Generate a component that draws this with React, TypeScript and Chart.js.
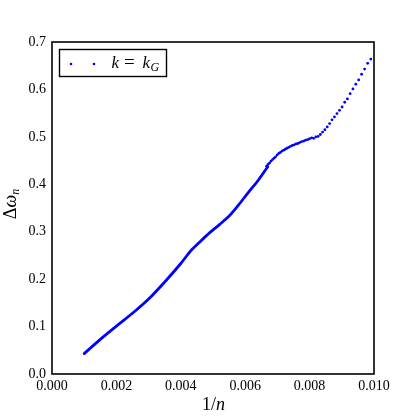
import React, { useEffect, useRef } from "react";
import { Chart, registerables } from "chart.js";

Chart.register(...registerables);

// Dense part (n from 1000 down to ~150): points merge into a solid curve
const denseX = [0.001, 0.0015, 0.002, 0.0025, 0.003, 0.0035, 0.004, 0.0043, 0.0046, 0.0049, 0.0052, 0.0055, 0.0058, 0.0061, 0.0064, 0.0067];
const denseY = [0.043, 0.073, 0.101, 0.128, 0.158, 0.194, 0.233, 0.259, 0.279, 0.298, 0.315, 0.333, 0.357, 0.383, 0.408, 0.437];

// Sparse part (n = 101 ... 150): individual dots
const sparseX = [
  0.009901, 0.009804, 0.009709, 0.009615, 0.009524, 0.009434, 0.009346, 0.009259, 0.009174, 0.009091,
  0.009009, 0.008929, 0.00885, 0.008772, 0.008696, 0.008621, 0.008547, 0.008475, 0.008403, 0.008333,
  0.008264, 0.008197, 0.00813, 0.008065, 0.008, 0.007937, 0.007874, 0.007813, 0.007752, 0.007692,
  0.007634, 0.007576, 0.007519, 0.007463, 0.007407, 0.007353, 0.007299, 0.007246, 0.007194, 0.007143,
  0.007092, 0.007042, 0.006993, 0.006944, 0.006897, 0.006849, 0.006803, 0.006757, 0.006711, 0.006667,
];
const sparseY = [
  0.664, 0.655, 0.643, 0.632, 0.62, 0.611, 0.601, 0.591, 0.58, 0.573,
  0.563, 0.556, 0.549, 0.542, 0.536, 0.528, 0.521, 0.515, 0.51, 0.505,
  0.501, 0.5, 0.497, 0.498, 0.496, 0.494, 0.493, 0.491, 0.49, 0.488,
  0.486, 0.485, 0.483, 0.482, 0.48, 0.478, 0.476, 0.474, 0.472, 0.47,
  0.467, 0.465, 0.462, 0.458, 0.455, 0.452, 0.449, 0.445, 0.442, 0.438,
];

const xTicks = [0, 0.002, 0.004, 0.006, 0.008, 0.01];
const yTicks = [0, 0.1, 0.2, 0.3, 0.4, 0.5, 0.6, 0.7];

const xTitle = ["1/", "n"];
const yTitle = ["Δ", "ω", "n"];
const legendLabel = ["k", "=", "k", "G"];

const BLUE = "#0000ff";
const SERIF = "'Liberation Serif', 'DejaVu Serif', serif";

const decorPlugin = {
  id: "decor",
  afterDraw(chart: any) {
    const { ctx, chartArea: a } = chart;
    ctx.save();
    // frame
    ctx.strokeStyle = "#000";
    ctx.lineWidth = 1.6;
    ctx.strokeRect(a.left, a.top, a.right - a.left, a.bottom - a.top);

    // legend
    ctx.lineWidth = 1.4;
    ctx.strokeRect(59.5, 49.5, 107, 27);
    ctx.fillStyle = BLUE;
    for (const lx of [71, 94]) {
      ctx.beginPath();
      ctx.arc(lx, 64, 1.3, 0, Math.PI * 2);
      ctx.fill();
    }
    ctx.fillStyle = "#000";
    ctx.textBaseline = "alphabetic";
    ctx.textAlign = "left";
    const base = 68;
    ctx.font = `italic 17px ${SERIF}`;
    ctx.fillText(legendLabel[0], 111.5, base);
    ctx.font = `19px ${SERIF}`;
    ctx.fillText(legendLabel[1], 124, base);
    ctx.font = `italic 17px ${SERIF}`;
    ctx.fillText(legendLabel[2], 142.5, base);
    ctx.font = `italic 12px ${SERIF}`;
    ctx.fillText(legendLabel[3], 150.5, base + 2.5);

    // x title "1/n"
    ctx.font = `18px ${SERIF}`;
    const w1 = ctx.measureText(xTitle[0]).width;
    ctx.font = `italic 18px ${SERIF}`;
    const w2 = ctx.measureText(xTitle[1]).width;
    const tx = 213.5 - (w1 + w2) / 2;
    ctx.font = `18px ${SERIF}`;
    ctx.fillText(xTitle[0], tx, 410);
    ctx.font = `italic 18px ${SERIF}`;
    ctx.fillText(xTitle[1], tx + w1, 410);

    // y title "Δω_n"
    ctx.translate(15.5, 204);
    ctx.rotate(-Math.PI / 2);
    ctx.font = `18px ${SERIF}`;
    const d1 = ctx.measureText(yTitle[0]).width;
    ctx.font = `italic 18px ${SERIF}`;
    const d2 = ctx.measureText(yTitle[1]).width;
    ctx.font = `italic 12px ${SERIF}`;
    const d3 = ctx.measureText(yTitle[2]).width;
    let ty = -(d1 + d2 + d3) / 2;
    ctx.font = `18px ${SERIF}`;
    ctx.fillText(yTitle[0], ty, 0);
    ty += d1;
    ctx.font = `italic 18px ${SERIF}`;
    ctx.fillText(yTitle[1], ty, 0);
    ty += d2;
    ctx.font = `italic 12px ${SERIF}`;
    ctx.fillText(yTitle[2], ty, 3);
    ctx.restore();
  },
};

export default function App() {
  const ref = useRef<HTMLCanvasElement | null>(null);

  useEffect(() => {
    if (!ref.current) return;
    const dense = denseX.map((x, i) => ({ x, y: denseY[i] }));
    const sparse = sparseX.map((x, i) => ({ x, y: sparseY[i] }));
    const chart = new Chart(ref.current, {
      type: "scatter",
      data: {
        datasets: [
          {
            data: dense,
            showLine: true,
            borderColor: BLUE,
            borderWidth: 2.8,
            pointRadius: 0,
            tension: 0.3,
            borderCapStyle: "round",
            borderJoinStyle: "round",
          } as any,
          {
            data: sparse,
            pointRadius: 1.4,
            pointBorderWidth: 0,
            backgroundColor: BLUE,
            borderColor: BLUE,
          },
        ],
      },
      options: {
        responsive: false,
        animation: false,
        layout: { padding: { left: 0, top: 42, right: 42, bottom: 0 } },
        plugins: { legend: { display: false }, tooltip: { enabled: false } },
        scales: {
          x: {
            type: "linear",
            min: 0,
            max: 0.01,
            afterFit: (s: any) => {
              s.height = 42;
            },
            afterBuildTicks: (s: any) => {
              s.ticks = xTicks.map((v) => ({ value: v }));
            },
            grid: { display: false, drawTicks: false },
            border: { display: false },
            ticks: {
              padding: 4,
              color: "#000",
              font: { family: SERIF, size: 14 },
              callback: (v: any) => Number(v).toFixed(3),
            },
          },
          y: {
            type: "linear",
            min: 0,
            max: 0.7,
            afterFit: (s: any) => {
              s.width = 52;
            },
            afterBuildTicks: (s: any) => {
              s.ticks = yTicks.map((v) => ({ value: v }));
            },
            grid: { display: false, drawTicks: false },
            border: { display: false },
            ticks: {
              padding: 6,
              color: "#000",
              font: { family: SERIF, size: 14 },
              callback: (v: any) => Number(v).toFixed(1),
            },
          },
        },
      },
      plugins: [decorPlugin],
    });
    return () => chart.destroy();
  }, []);

  return (
    <div style={{ position: "fixed", left: 0, top: 0, width: 416, height: 416, background: "#fff" }}>
      <canvas ref={ref} width={416} height={416} style={{ width: 416, height: 416, display: "block" }} />
    </div>
  );
}
